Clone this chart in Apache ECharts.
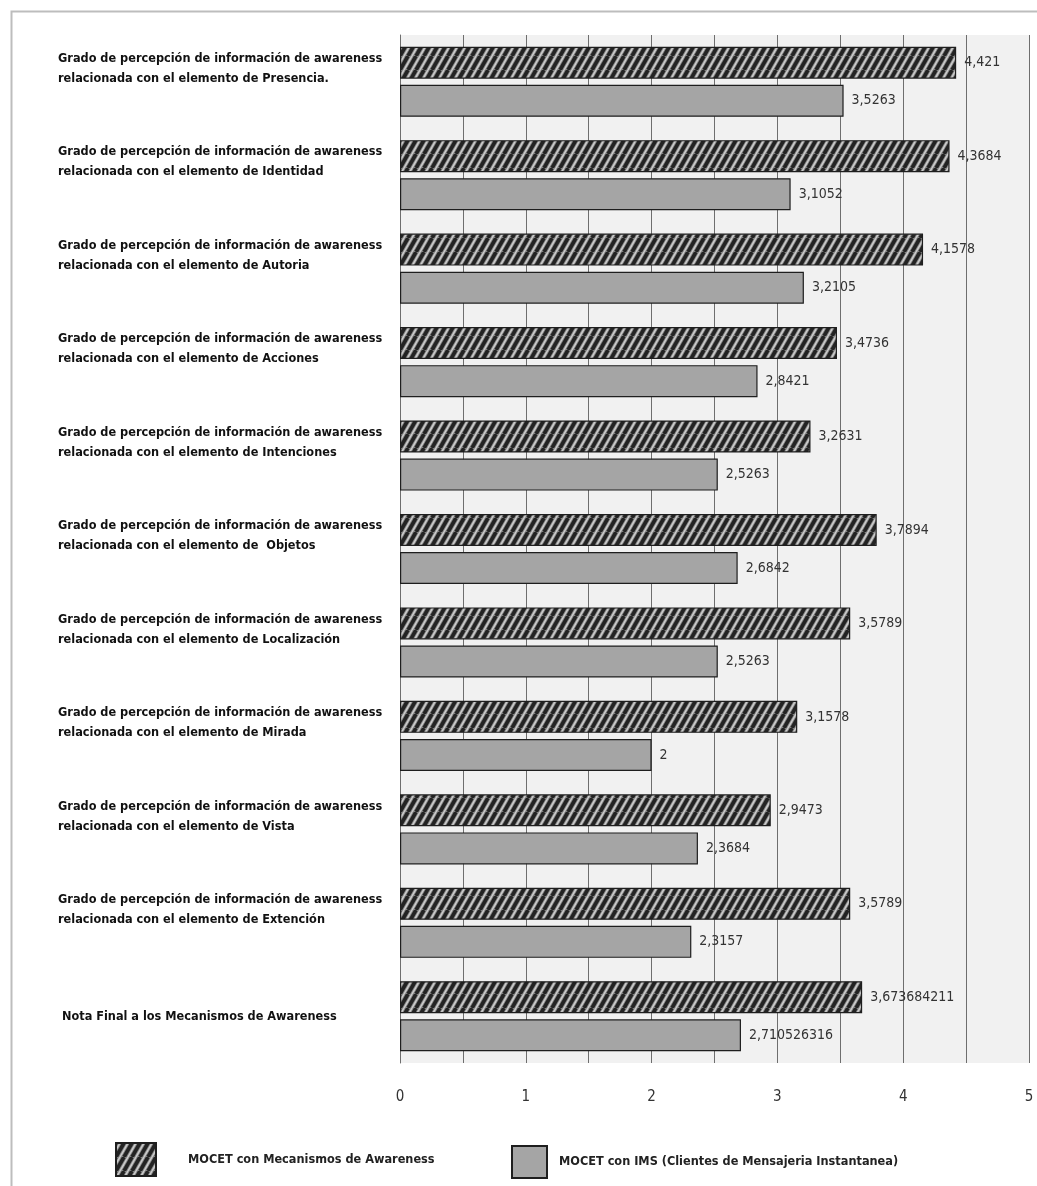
<!DOCTYPE html>
<html>
<head>
<meta charset="utf-8">
<script src="https://cdn.jsdelivr.net/npm/echarts@6/dist/echarts.min.js"></script>
<style>
html,body{margin:0;padding:0;background:#fff;}
#chart{width:1037px;height:1186px;}
</style>
</head>
<body>
<div id="chart"></div>
<script>
var categories = [
  "Grado de percepción de información de awareness\nrelacionada con el elemento de Presencia.",
  "Grado de percepción de información de awareness\nrelacionada con el elemento de Identidad",
  "Grado de percepción de información de awareness\nrelacionada con el elemento de Autoria",
  "Grado de percepción de información de awareness\nrelacionada con el elemento de Acciones",
  "Grado de percepción de información de awareness\nrelacionada con el elemento de Intenciones",
  "Grado de percepción de información de awareness\nrelacionada con el elemento de  Objetos",
  "Grado de percepción de información de awareness\nrelacionada con el elemento de Localización",
  "Grado de percepción de información de awareness\nrelacionada con el elemento de Mirada",
  "Grado de percepción de información de awareness\nrelacionada con el elemento de Vista",
  "Grado de percepción de información de awareness\nrelacionada con el elemento de Extención",
  "Nota Final a los Mecanismos de Awareness"
];
var seriesNames = ["MOCET con Mecanismos de Awareness", "MOCET con IMS (Clientes de Mensajeria Instantanea)"];
var awarenessValues = [4.421, 4.3684, 4.1578, 3.4736, 3.2631, 3.7894, 3.5789, 3.1578, 2.9473, 3.5789, 3.673684211];
var imsValues = [3.5263, 3.1052, 3.2105, 2.8421, 2.5263, 2.6842, 2.5263, 2, 2.3684, 2.3157, 2.710526316];
var xTickLabels = ["0", "1", "2", "3", "4", "5"];

var FONT = "'DejaVu Sans Condensed', 'Liberation Sans Narrow', sans-serif";

function makeHatch() {
  var w = 8, h = 14;
  var c = document.createElement('canvas');
  c.width = w; c.height = h;
  var g = c.getContext('2d');
  g.fillStyle = '#8c8c8c';
  g.fillRect(0, 0, w, h);
  for (var k = -3; k <= 3; k++) {
    var x0 = k * w;
    g.strokeStyle = '#232323';
    g.lineWidth = 3.8;
    g.beginPath(); g.moveTo(x0, h); g.lineTo(x0 + w, 0); g.stroke();
    g.strokeStyle = '#cdcdcd';
    g.lineWidth = 1.4;
    g.beginPath(); g.moveTo(x0 + w / 2, h); g.lineTo(x0 + w / 2 + w, 0); g.stroke();
  }
  return c;
}
var hatch = makeHatch();

function fmt(v) { return String(v).replace('.', ','); }

var chart = echarts.init(document.getElementById('chart'), null, {renderer: 'canvas'});
var option = {
  backgroundColor: '#ffffff',
  animation: false,
  graphic: [{
    type: 'rect', left: 9, top: 9, z: -10,
    shape: {width: 1100, height: 1250},
    style: {fill: 'none', stroke: '#bdbdbd', lineWidth: 2}
  }],
  grid: {left: 400, right: 8, top: 35, bottom: 123, show: true, backgroundColor: '#f1f1f1', borderWidth: 0},
  legend: [{
    data: [seriesNames[0]],
    left: 110, top: 1137,
    itemWidth: 40, itemHeight: 33,
    icon: 'rect',
    textStyle: {fontFamily: FONT, fontWeight: 'bold', fontSize: 12.6, color: '#222', padding: [0, 0, 0, 27]}
  }, {
    data: [seriesNames[1]],
    left: 506, top: 1140,
    itemWidth: 35, itemHeight: 32,
    icon: 'rect',
    textStyle: {fontFamily: FONT, fontWeight: 'bold', fontSize: 12.6, color: '#222', padding: [0, 0, 0, 7]}
  }],
  xAxis: {
    type: 'value', min: 0, max: 5, interval: 0.5,
    axisLine: {show: false}, axisTick: {show: false},
    splitLine: {show: true, lineStyle: {color: '#6e6e6e', width: 1}},
    axisLabel: {
      margin: 27, fontFamily: FONT, fontSize: 15, color: '#333',
      formatter: function (v) {
        if (Math.abs(v - Math.round(v)) < 1e-9) return xTickLabels[Math.round(v)];
        return '';
      }
    }
  },
  yAxis: {
    type: 'category', data: categories, inverse: true,
    axisLine: {show: true, lineStyle: {color: '#6e6e6e'}},
    axisTick: {show: false},
    axisLabel: {
      align: 'left', margin: 342,
      fontFamily: FONT, fontWeight: 'bold', fontSize: 12.6, lineHeight: 20, color: '#111',
      formatter: function (v) {
        if (v.indexOf('\n') >= 0) return '{t|' + v.split('\n').join('}\n{t|') + '}\n{sp| }';
        return '{t| ' + v + '}';
      },
      rich: {
        t: {fontFamily: FONT, fontWeight: 'bold', fontSize: 12.6, lineHeight: 20, color: '#111'},
        sp: {fontSize: 4, lineHeight: 26}
      }
    }
  },
  series: [{
    name: seriesNames[0], type: 'bar', data: awarenessValues,
    barWidth: 32, barGap: '19%',
    itemStyle: {color: {image: hatch, repeat: 'repeat'}, borderColor: '#1e1e1e', borderWidth: 1.2},
    label: {show: true, position: 'right', distance: 8, fontFamily: FONT, fontSize: 14, color: '#333',
      formatter: function (p) { return fmt(p.value); }}
  }, {
    name: seriesNames[1], type: 'bar', data: imsValues,
    barWidth: 32,
    itemStyle: {color: '#a5a5a5', borderColor: '#1e1e1e', borderWidth: 1.2},
    label: {show: true, position: 'right', distance: 8, fontFamily: FONT, fontSize: 14, color: '#333',
      formatter: function (p) { return fmt(p.value); }}
  }]
};
chart.setOption(option);
</script>
</body>
</html>
